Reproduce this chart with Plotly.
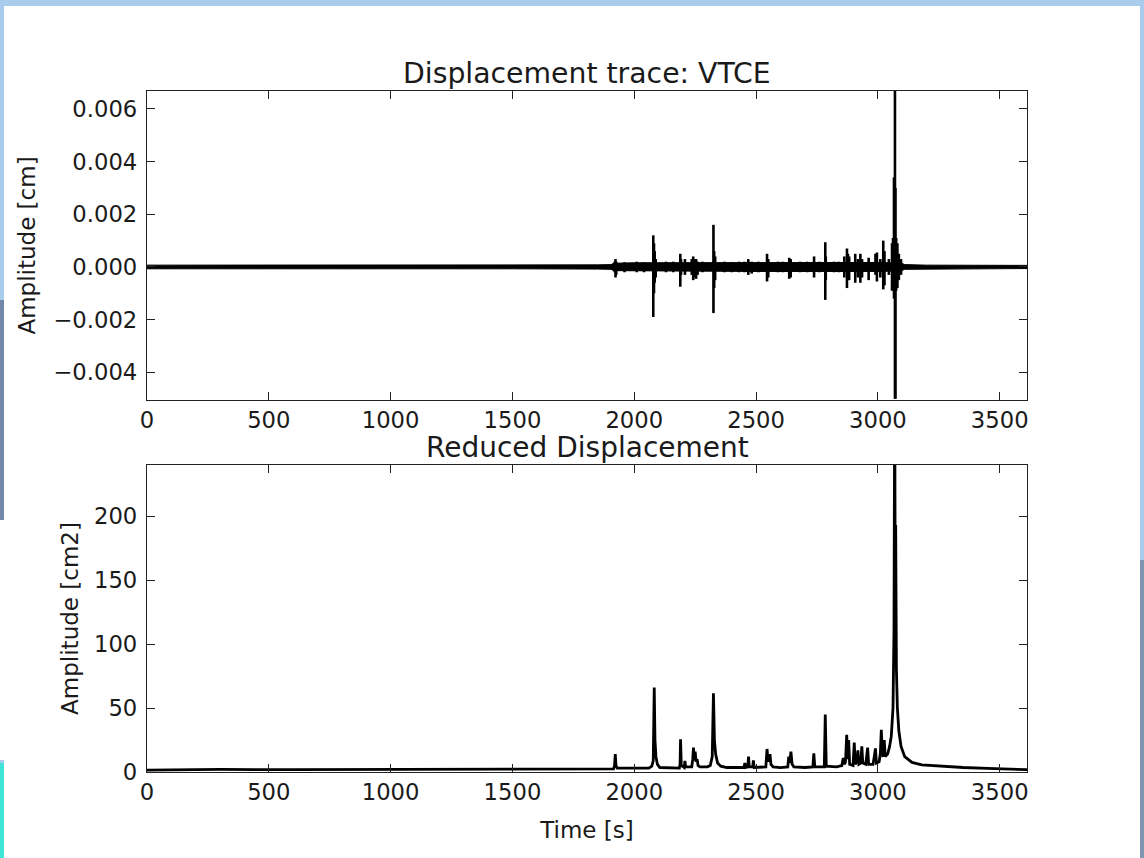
import plotly.graph_objects as go

# ---------------- data ----------------
# Top panel: background noise band of the displacement trace [cm]
noise_time = [0, 500, 1000, 1500, 1850, 1905, 1915, 2000, 2500, 3000, 3095, 3110, 3200, 3612]
noise_hi = [0.00007, 0.00007, 0.00006, 0.00007, 0.00008, 0.00009, 0.00014, 0.00016, 0.00017,
            0.00017, 0.00015, 0.00009, 0.00007, 0.00006]
noise_lo = [-0.00007, -0.00007, -0.00006, -0.00007, -0.00008, -0.00009, -0.00014, -0.00016, -0.00017,
            -0.00017, -0.00015, -0.00009, -0.00007, -0.00006]

# Top panel: oscillation bursts (time [s], positive peak, negative peak) [cm]
burst_time = [1920, 1923, 1926, 1960, 2010, 2040, 2078, 2081, 2084, 2088, 2130, 2160,
              2189, 2192, 2208, 2236, 2242, 2248, 2254, 2260, 2280, 2325, 2328, 2332,
              2370, 2400, 2430, 2452, 2468, 2482, 2510, 2545, 2550, 2590, 2610, 2636,
              2642, 2680, 2710, 2738, 2760, 2784, 2786, 2820, 2840, 2862, 2873, 2877,
              2882, 2907, 2918, 2928, 2935, 2962, 2990, 2996, 3010, 3022, 3027, 3045,
              3058, 3062, 3066, 3070, 3072, 3075, 3080, 3086, 3095]
burst_max = [0.0002, 0.0003, 0.0002, 0.00018, 0.0002, 0.00018, 0.0012, 0.0009, 0.0006, 0.0003,
             0.0002, 0.0002, 0.0005, 0.0003, 0.0003, 0.0003, 0.0004, 0.0003, 0.0003, 0.0002,
             0.0002, 0.0016, 0.0006, 0.0004, 0.0002, 0.00018, 0.0002, 0.0002, 0.0003, 0.0002,
             0.0002, 0.0005, 0.0003, 0.0002, 0.0002, 0.00035, 0.0003, 0.0002, 0.0002, 0.0004,
             0.0002, 0.00094, 0.0004, 0.0002, 0.0002, 0.0004, 0.0007, 0.0005, 0.0004, 0.0005,
             0.0003, 0.0005, 0.0003, 0.00035, 0.0005, 0.00055, 0.0003, 0.001, 0.0006, 0.0003,
             0.0009, 0.0011, 0.0034, 0.0067, 0.0030, 0.0011, 0.0009, 0.0005, 0.0003]
burst_min = [-0.0002, -0.0004, -0.0003, -0.0002, -0.0002, -0.0002, -0.0019, -0.0010, -0.0006, -0.0004,
             -0.0002, -0.0002, -0.00075, -0.0003, -0.0003, -0.0003, -0.0005, -0.0004, -0.00045, -0.0003,
             -0.0002, -0.00175, -0.0008, -0.0005, -0.0002, -0.0002, -0.0002, -0.0002, -0.0003, -0.00025,
             -0.0002, -0.00055, -0.0004, -0.0002, -0.0002, -0.00045, -0.0004, -0.0002, -0.0002, -0.0004,
             -0.0002, -0.00125, -0.0005, -0.0002, -0.0002, -0.0004, -0.0008, -0.0005, -0.0005, -0.0006,
             -0.0004, -0.0006, -0.0004, -0.0005, -0.0003, -0.00055, -0.0004, -0.00085, -0.0007, -0.0003,
             -0.0009, -0.0009, -0.0012, -0.0050, -0.0050, -0.0009, -0.0008, -0.0005, -0.0003]

# Bottom panel: reduced displacement (time [s], amplitude [cm2])
rd_time = [0, 300, 600, 900, 1200, 1500, 1800, 1915, 1919, 1922, 1925, 1930,
           2060, 2072, 2078, 2082, 2085, 2089, 2095, 2105,
           2185, 2188, 2190, 2193, 2205, 2208, 2211,
           2236, 2240, 2243, 2246, 2250, 2254, 2258, 2262, 2270,
           2300, 2312, 2320, 2325, 2329, 2334, 2342, 2355, 2380,
           2450, 2454, 2457, 2466, 2469, 2472, 2486, 2489, 2492,
           2540, 2545, 2549, 2553, 2557, 2561, 2570, 2600,
           2630, 2634, 2638, 2643, 2648, 2655, 2700,
           2733, 2737, 2741, 2780, 2784, 2788, 2830,
           2852, 2858, 2863, 2867, 2872, 2876, 2880, 2884, 2898,
           2903, 2907, 2914, 2918, 2922, 2930, 2934, 2938, 2950,
           2958, 2962, 2980, 2985, 2990, 2994, 3005, 3010, 3014, 3018, 3022, 3026, 3030,
           3040, 3048, 3055, 3062, 3066, 3069, 3071, 3073, 3076, 3080, 3086, 3095, 3110,
           3140, 3180, 3250, 3350, 3450, 3550, 3612]
rd_amp = [1.5, 2, 1.8, 2, 2, 2.2, 2.5, 2.5, 5, 14, 5, 3,
          3, 4.5, 9, 66, 25, 12, 6, 3.5,
          3, 6, 25.5, 5, 3.5, 8.6, 4,
          4, 10, 19, 9, 16, 8, 10, 5, 4,
          4, 5, 12, 61.5, 25, 14, 7, 4.5, 3.5,
          3.5, 7, 3.5, 4, 12, 4, 4, 9, 3.5,
          4, 18, 8, 11, 14, 6, 4, 3.5,
          4, 12, 7, 16, 6, 4, 3.5,
          4, 14.6, 4, 4, 45, 4.5, 4,
          5, 11, 6, 8, 29, 10, 25, 6, 5,
          23, 6, 8, 17, 6, 7, 20, 7, 6,
          19, 6, 6, 12, 18.5, 7, 8, 14, 33, 14, 12, 25, 12,
          14, 20, 28, 50, 110, 300, 150, 193, 80, 50, 32, 20, 12,
          7.5, 5.5, 4.5, 3.5, 2.8, 2.2, 1.8]

x_ticks = [0, 500, 1000, 1500, 2000, 2500, 3000, 3500]
top_y_ticks = [0.006, 0.004, 0.002, 0.0, -0.002, -0.004]
bottom_y_ticks = [0, 50, 100, 150, 200]

top_title = "Displacement trace: VTCE"
bottom_title = "Reduced Displacement"

# ---------------- figure ----------------
FONT = "DejaVu Sans"
TXT = "#1a1a1a"
fig = go.Figure()

# noise band (filled envelope)
fig.add_trace(go.Scatter(
    x=noise_time + noise_time[::-1],
    y=noise_hi + noise_lo[::-1],
    mode="lines", fill="toself", fillcolor="black",
    line=dict(color="black", width=1),
    xaxis="x", yaxis="y", showlegend=False, hoverinfo="skip"))

# oscillation bursts as vertical strokes
bx, by = [], []
for t, hi, lo in zip(burst_time, burst_max, burst_min):
    bx += [t, t, None]
    by += [lo, hi, None]
fig.add_trace(go.Scatter(
    x=bx, y=by, mode="lines", line=dict(color="black", width=2.6),
    xaxis="x", yaxis="y", showlegend=False, hoverinfo="skip"))

fig.add_trace(go.Scatter(
    x=rd_time, y=rd_amp, mode="lines",
    line=dict(color="black", width=2.8),
    xaxis="x2", yaxis="y2", showlegend=False))

axis_common = dict(
    showline=True, mirror="ticks", linecolor="#222222", linewidth=1.3,
    ticks="inside", ticklen=8, tickwidth=1.1, tickcolor="#222222",
    showgrid=False, zeroline=False,
    tickfont=dict(family=FONT, size=22.7, color=TXT),
)

top_dom = [(772 - 400) / 681, 1.0]
bot_dom = [0.0, (772 - 465) / 681]
LAB = dict(family=FONT, size=23, color=TXT)

fig.update_layout(
    width=1144, height=858,
    margin=dict(l=147, r=117, t=91, b=86),
    paper_bgcolor="#a9cbec", plot_bgcolor="white",
    font=dict(family=FONT, color=TXT),
    xaxis=dict(domain=[0, 1], anchor="y", range=[0, 3612], tickvals=x_ticks, **axis_common),
    yaxis=dict(domain=top_dom, anchor="x", range=[-0.00505, 0.00668],
               tickvals=top_y_ticks, tickformat=".3f", ticklabelstandoff=4,
               title=dict(text="Amplitude [cm]", font=LAB, standoff=11),
               **axis_common),
    xaxis2=dict(domain=[0, 1], anchor="y2", range=[0, 3612], tickvals=x_ticks,
                title=dict(text="Time [s]", font=LAB, standoff=17),
                **axis_common),
    yaxis2=dict(domain=bot_dom, anchor="x2", range=[0, 240], tickvals=bottom_y_ticks,
                ticklabelstandoff=4,
                title=dict(text="Amplitude [cm2]", font=LAB, standoff=8),
                **axis_common),
    showlegend=False,
)

# titles
fig.add_annotation(text=top_title, xref="paper", yref="paper", x=0.5, y=top_dom[1],
                   xanchor="center", yanchor="bottom", yshift=-1, showarrow=False,
                   font=dict(family=FONT, size=28.3, color=TXT))
fig.add_annotation(text=bottom_title, xref="paper", yref="paper", x=0.5, y=bot_dom[1],
                   xanchor="center", yanchor="bottom", yshift=0, showarrow=False,
                   borderpad=0,
                   font=dict(family=FONT, size=28, color=TXT))

# window background: white sheet over the blue desktop edge
def px_x(p):
    return (p - 147) / 880.0

def px_y(p):
    return (772 - p) / 681.0

fig.add_shape(type="rect", xref="paper", yref="paper", layer="below",
              x0=px_x(4), x1=px_x(1140), y0=px_y(860), y1=px_y(6),
              fillcolor="white", line=dict(width=0))
fig.add_shape(type="rect", xref="paper", yref="paper", layer="below",
              x0=px_x(-5), x1=px_x(4), y0=px_y(520), y1=px_y(300),
              fillcolor="#7188a8", line=dict(width=0))
fig.add_shape(type="rect", xref="paper", yref="paper", layer="below",
              x0=px_x(-5), x1=px_x(4), y0=px_y(760), y1=px_y(520),
              fillcolor="white", line=dict(width=0))
fig.add_shape(type="rect", xref="paper", yref="paper", layer="below",
              x0=px_x(-5), x1=px_x(4), y0=px_y(860), y1=px_y(763),
              fillcolor="#3fe6d8", line=dict(width=0))
fig.add_shape(type="rect", xref="paper", yref="paper", layer="below",
              x0=px_x(1140), x1=px_x(1150), y0=px_y(860), y1=px_y(560),
              fillcolor="#8095b0", line=dict(width=0))

fig.write_html(
    "out.html",
    config={"displayModeBar": False},
    post_script="document.body.style.margin='0px';document.body.style.background='#a9cbec';",
)
